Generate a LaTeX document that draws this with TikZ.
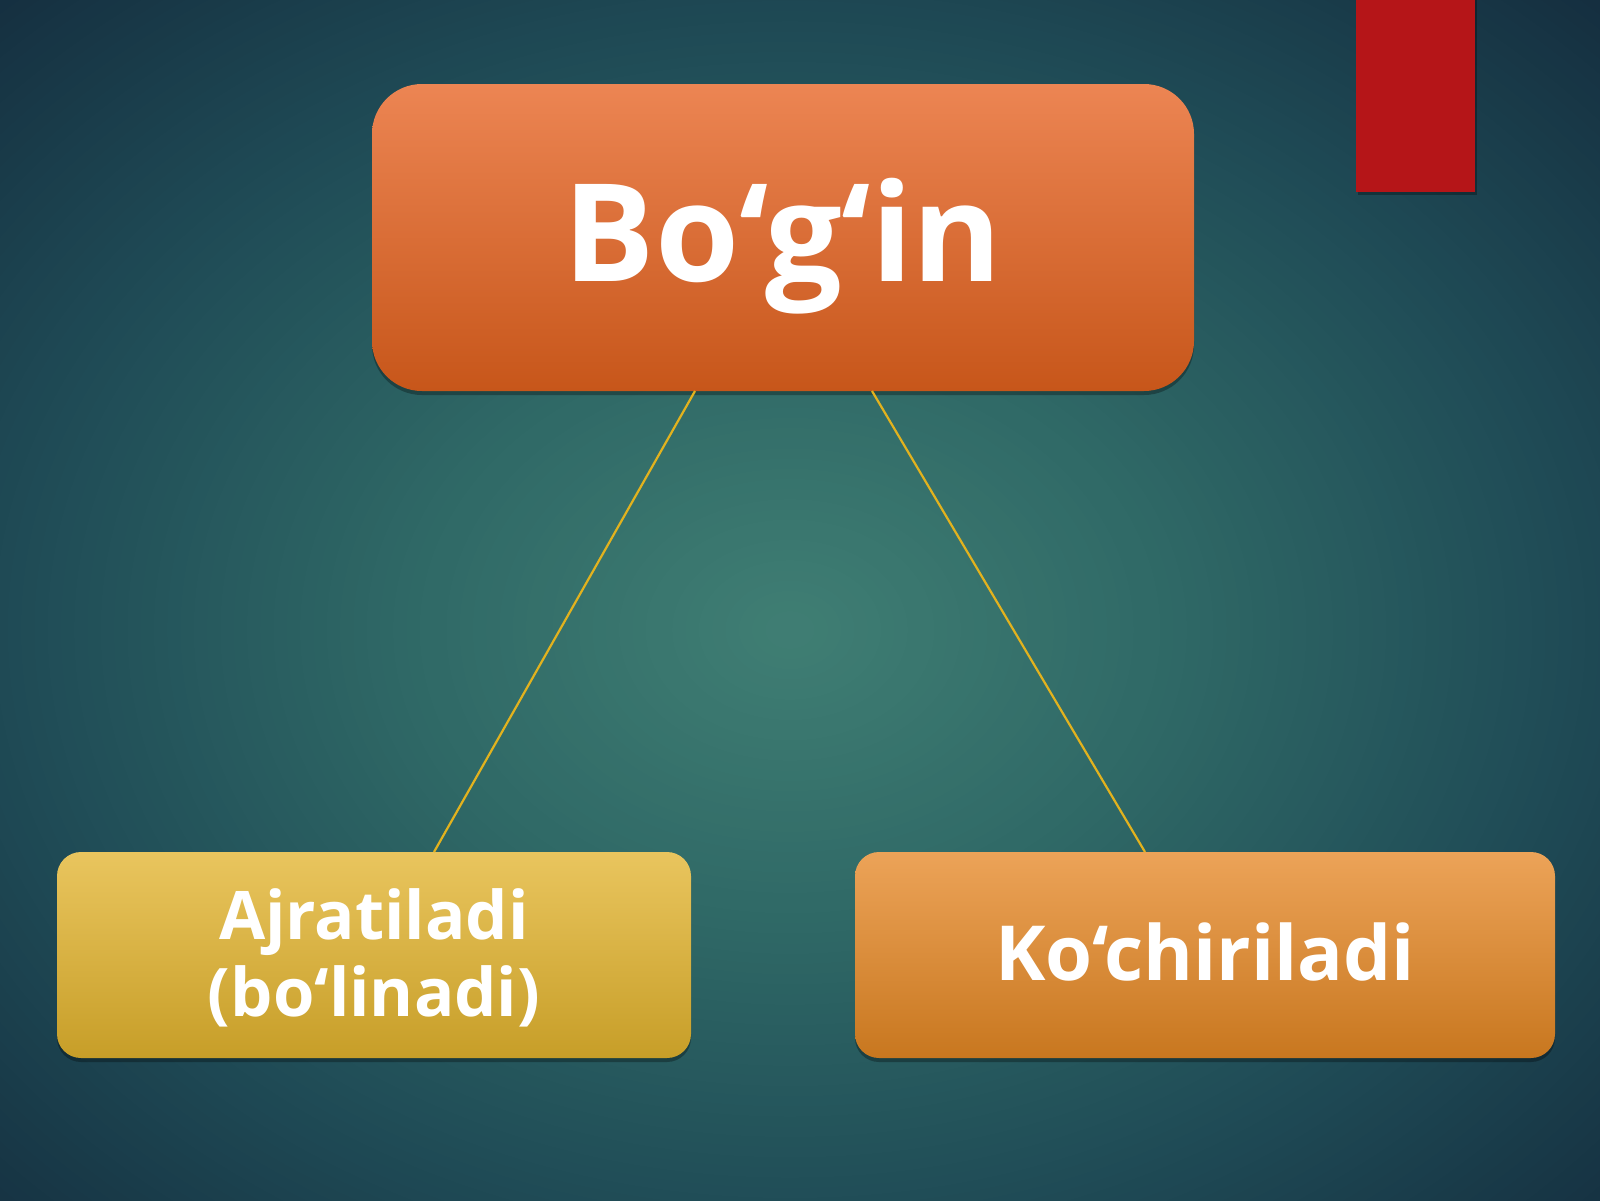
\documentclass[tikz,border=0pt]{standalone}
\usepackage{fontspec}
\setmainfont{Open Sans}
\usetikzlibrary{shadows}
\definecolor{bgA}{HTML}{407F74}
\definecolor{bgB}{HTML}{2E6765}
\definecolor{bgC}{HTML}{1F4B56}
\definecolor{bgD}{HTML}{152F40}
\definecolor{topT}{HTML}{EC8553}
\definecolor{topB}{HTML}{C7561A}
\definecolor{leftT}{HTML}{E9C55E}
\definecolor{leftB}{HTML}{C79E28}
\definecolor{rightT}{HTML}{ECA358}
\definecolor{rightB}{HTML}{C8771F}
\definecolor{redbar}{HTML}{B51518}
\definecolor{connector}{HTML}{E2B21E}
\tikzset{
  boxshadow/.style={drop shadow={shadow xshift=0pt, shadow yshift=-2pt, opacity=0.3, fill=black}},
  topbox/.style={rectangle, rounded corners=25pt, top color=topT, bottom color=topB, boxshadow, inner sep=0pt},
  leftbox/.style={rectangle, rounded corners=12pt, top color=leftT, bottom color=leftB, boxshadow, inner sep=0pt},
  rightbox/.style={rectangle, rounded corners=12pt, top color=rightT, bottom color=rightB, boxshadow, inner sep=0pt},
  txt/.style={text=white, font=\bfseries, inner sep=0pt},
  link/.style={draw=connector, line width=1.1pt},
}
\begin{document}
\begin{tikzpicture}[x=0.5pt, y=-0.5pt]
\useasboundingbox (0,0) rectangle (1600,1200);
\begin{scope}
\clip (0,0) rectangle (1600,1200);
\foreach \k in {0,...,89}{
  \pgfmathsetmacro{\r}{1.05-\k/90*1.04}
  \ifdim \r pt>0.68pt
    \pgfmathsetmacro{\p}{min(100,(\r-0.68)/0.32*100)}
    \colorlet{bgcur}{bgD!\p!bgC}
  \else
    \ifdim \r pt>0.36pt
      \pgfmathsetmacro{\p}{(\r-0.36)/0.32*100}
      \colorlet{bgcur}{bgC!\p!bgB}
    \else
      \pgfmathsetmacro{\p}{\r/0.36*100}
      \colorlet{bgcur}{bgB!\p!bgA}
    \fi
  \fi
  \fill[bgcur] (790,630) ellipse ({1150*\r} and {880*\r});
}
\end{scope}
% red bar
\fill[black, opacity=0.3] (1358,0) rectangle (1477,195);
\fill[redbar] (1356,0) rectangle (1475,192);
% boxes
\node[topbox, minimum width=411pt, minimum height=153.5pt] (top) at (783,237.5) {};
\node[leftbox, minimum width=317pt, minimum height=103pt] (left) at (374,955) {};
\node[rightbox, minimum width=350pt, minimum height=103pt] (right) at (1205,955) {};
% connectors
\coordinate (topL) at (695,391);
\coordinate (topR) at (872,391);
\coordinate (leftT) at (434,852);
\coordinate (rightT) at (1145,852);
\draw[link] (topL) -- (leftT);
\draw[link] (topR) -- (rightT);
% texts
\node[txt, anchor=base, font=\bfseries\fontsize{68}{80}\selectfont] (ttop) at (783,281) {Bo‘g‘in};
\node[txt, anchor=center, align=center, font=\bfseries\fontsize{33.5}{38.5}\selectfont] (tleft) at (374,958) {Ajratiladi\\(bo‘linadi)};
\node[txt, anchor=base, font=\bfseries\fontsize{38}{45}\selectfont] (tright) at (1205,980) {Ko‘chiriladi};
\end{tikzpicture}
\end{document}
